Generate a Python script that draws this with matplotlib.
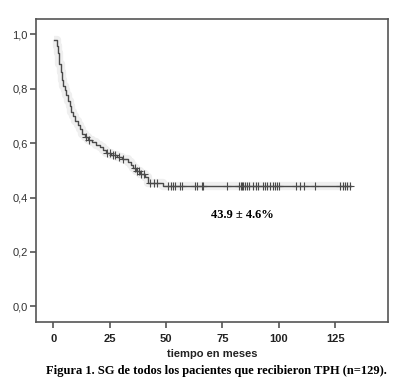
import numpy as np
import matplotlib
matplotlib.use("Agg")
import matplotlib.pyplot as plt

# Kaplan-Meier step data (time in months, survival after the step)
event_times = [0.5, 1.5, 2.0, 2.5, 3.2, 3.8, 4.3, 5.2, 5.8, 6.5, 7.3, 8.0, 8.8, 9.8,
               10.8, 11.8, 12.8, 14.0, 15.5, 17.0, 18.8, 20.5, 22.0, 23.5, 25.5,
               28.0, 30.5, 33.0, 34.5, 35.5, 36.8, 38.5, 40.5, 42.0, 48.5]
survival = [0.979, 0.955, 0.93, 0.89, 0.86, 0.83, 0.81, 0.795, 0.775, 0.755, 0.735,
            0.715, 0.70, 0.68, 0.665, 0.65, 0.635, 0.622, 0.612, 0.602, 0.594,
            0.585, 0.575, 0.565, 0.557, 0.549, 0.541, 0.532, 0.52, 0.508, 0.496,
            0.485, 0.474, 0.455, 0.441]
end_time = 132.0

censored_times = [14.5, 15.8, 23.8, 25.0, 26.5, 27.5, 29.0, 31.0, 36.2, 37.2, 38.0,
                  39.0, 40.0, 43.0, 44.5, 46.0,
                  51.0, 52.0, 52.9, 53.9, 56.2, 57.0, 62.8, 63.8, 65.8, 66.5, 77.1,
                  82.5, 83.1, 83.6, 84.2, 85.0, 86.0, 86.9, 88.7, 89.9, 90.9, 92.8,
                  93.9, 94.6, 96.1, 97.3, 98.3, 99.0, 100.2, 107.6, 109.4, 111.2,
                  116.0, 127.1, 128.3, 129.3, 130.4, 131.5]

x_ticks = [0, 25, 50, 75, 100, 125]
y_ticks = [0.0, 0.2, 0.4, 0.6, 0.8, 1.0]
y_tick_labels = ["0,0", "0,2", "0,4", "0,6", "0,8", "1,0"]
annotation = "43.9 ± 4.6%"
xlabel = "tiempo en meses"
caption = "Figura 1. SG de todos los pacientes que recibieron TPH (n=129)."

fig = plt.figure(figsize=(4.0, 3.9), dpi=100)
ax = fig.add_axes([0.09, 0.1744, 0.88, 0.7766])

t = np.array(event_times + [end_time])
s = np.array(survival + [survival[-1]])

ax.step(t, s, where="post", color="#efefef", lw=6, zorder=1, solid_capstyle="butt")
ax.step(t, s, where="post", color="#4a4a4a", lw=1.0, zorder=3)

ct = np.array(censored_times)
idx = np.searchsorted(np.array(event_times), ct, side="right") - 1
cs = np.array(survival)[idx]
ax.plot(ct, cs, linestyle="none", marker="+", markersize=5.5, mew=0.8,
        color="#4a4a4a", zorder=4)

ax.text(84, 0.337, annotation, ha="center", va="center", fontsize=9,
        fontweight="bold", family="Liberation Serif")

ax.set_xlim(-7.7, 148.4)
ax.set_ylim(-0.057, 1.055)
ax.set_xticks(x_ticks)
ax.set_xticklabels([str(v) for v in x_ticks], fontsize=8, fontweight="bold",
                   family="Liberation Sans", color="#222222")
ax.set_yticks(y_ticks)
ax.set_yticklabels(y_tick_labels, fontsize=8, family="Liberation Sans",
                   color="#333333")
ax.tick_params(axis="both", direction="out", length=4, width=1.2, color="#555555",
               pad=2)
ax.tick_params(axis="x", pad=5)
for sp in ax.spines.values():
    sp.set_color("#555555")
    sp.set_linewidth(1.2)

ax.set_xlabel(xlabel, fontsize=8, fontweight="bold", family="Liberation Sans",
              color="#222222", labelpad=3)

fig.text(0.54, 0.048, caption, ha="center", va="center", fontsize=9,
         fontweight="bold", family="Liberation Serif")

fig.savefig("out.png", dpi=100)
